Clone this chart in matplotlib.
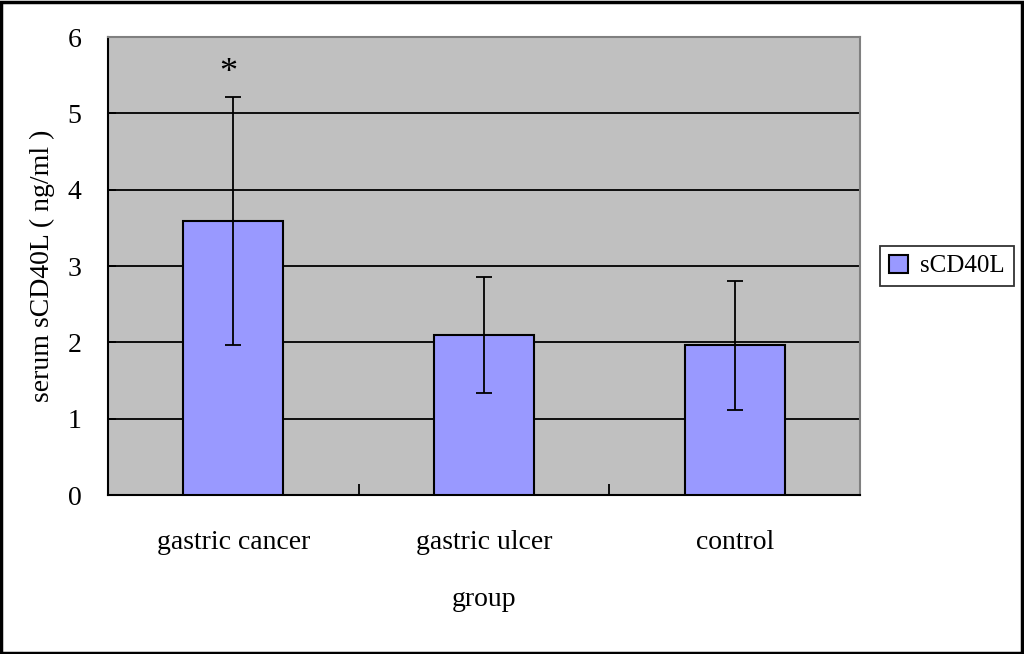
import numpy as np
import matplotlib
matplotlib.use('Agg')
import matplotlib.pyplot as plt
from matplotlib.patches import Rectangle

groups = ['gastric cancer', 'gastric ulcer', 'control']
means = [3.59, 2.10, 1.96]
errs = [1.63, 0.76, 0.85]

plt.rcParams['font.family'] = ['Liberation Serif', 'DejaVu Serif']

fig = plt.figure(figsize=(10.24, 6.54), dpi=100)
ax = fig.add_axes([0.1055, 0.2431, 0.7343, 0.7003])
ax.set_facecolor('#C0C0C0')

x = np.arange(len(groups))
ax.bar(x, means, width=0.4, color='#9999FF', edgecolor='black', linewidth=1.5,
       zorder=3, label='sCD40L')
ax.errorbar(x, means, yerr=errs, fmt='none', ecolor='black', elinewidth=1.3,
            capsize=6, capthick=1.3, zorder=4)
ax.text(x[0] - 0.02, means[0] + errs[0] + 0.3, '*', ha='center', va='center',
        fontsize=26)

ax.set_xlim(-0.5, len(groups) - 0.5)
ax.set_ylim(0, 6)
ax.set_yticks(range(7))
ax.yaxis.grid(True, color='black', linewidth=1.3, zorder=1)
ax.set_axisbelow(True)

ax.set_xticks(x)
ax.set_xticklabels(groups, fontsize=20)
ax.tick_params(axis='x', length=0, pad=25)
ax.set_xticks(np.arange(0.5, len(groups) - 0.5, 1.0), minor=True)
ax.tick_params(axis='x', which='minor', direction='in', length=8, width=1.3)
ax.tick_params(axis='y', direction='in', length=6, width=1.3, labelsize=20, pad=19)

for s in ['top', 'right']:
    ax.spines[s].set_color('#808080')
    ax.spines[s].set_linewidth(1.5)
for s in ['left', 'bottom']:
    ax.spines[s].set_color('black')
    ax.spines[s].set_linewidth(1.5)

ax.set_xlabel('group', fontsize=20, labelpad=23)
ax.set_ylabel('serum sCD40L ( ng/ml )', fontsize=20, labelpad=9)

leg = ax.legend(loc='center left', bbox_to_anchor=(1.027, 0.50), fontsize=18,
                frameon=True, fancybox=False, edgecolor='black',
                handlelength=0.75, handleheight=0.75, handletextpad=0.5,
                borderpad=0.35, borderaxespad=0)
leg.get_frame().set_linewidth(1.3)

fig.patches.append(Rectangle((0.001, 0.002), 0.997, 0.995, transform=fig.transFigure,
                             fill=False, edgecolor='black', linewidth=2.5))

fig.savefig('out.png', dpi=100)
